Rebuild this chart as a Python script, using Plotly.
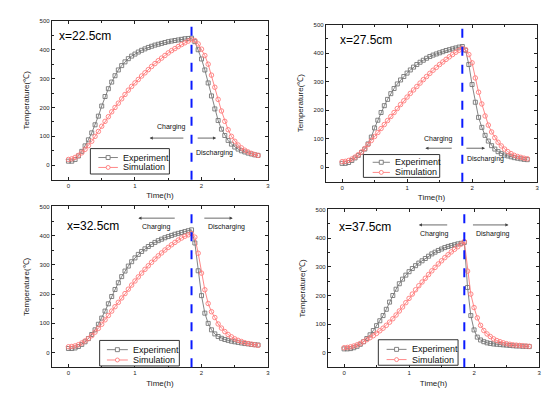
import plotly.graph_objects as go

# ---------------- data ----------------
time_h = [0.00, 0.05, 0.10, 0.15, 0.20, 0.25, 0.30, 0.35, 0.40, 0.45,
          0.50, 0.55, 0.60, 0.65, 0.70, 0.75, 0.80, 0.85, 0.90, 0.95,
          1.00, 1.05, 1.10, 1.15, 1.20, 1.25, 1.30, 1.35, 1.40, 1.45,
          1.50, 1.55, 1.60, 1.65, 1.70, 1.75, 1.80, 1.85, 1.90, 1.95,
          2.00, 2.05, 2.10, 2.15, 2.20, 2.25, 2.30, 2.35, 2.40, 2.45,
          2.50, 2.55, 2.60, 2.65, 2.70, 2.75, 2.80, 2.85]

switch_time = 1.85

panel_labels = ["x=22.5cm", "x=27.5cm", "x=32.5cm", "x=37.5cm"]
charge_labels = ["Charging", "Charging", "Charging", "Charging"]
discharge_labels = ["Discharging", "Discharging", "Discharging", "Disharging"]
series_names = ["Experiment", "Simulation"]

exp_22_5 = [14, 14, 20, 32, 48, 67, 88, 112, 140, 170,
            205, 238, 265, 288, 310, 330, 345, 358, 369, 378,
            385, 392, 398, 403, 408, 412, 416, 419, 422, 425,
            428, 430, 432, 434, 436, 438, 439, 440, 428, 400,
            368, 330, 285, 240, 195, 155, 125, 103, 86, 73,
            63, 56, 50, 46, 42, 39, 36, 34]
sim_22_5 = [20, 22, 27, 34, 43, 55, 68, 83, 100, 117,
            135, 152, 168, 185, 200, 215, 230, 245, 260, 273,
            285, 297, 309, 320, 331, 342, 352, 362, 371, 380,
            389, 397, 404, 411, 418, 424, 430, 435, 432, 420,
            402, 380, 350, 312, 270, 228, 188, 152, 123, 100,
            83, 70, 60, 52, 46, 41, 37, 34]

exp_27_5 = [14, 14, 17, 24, 33, 42, 52, 64, 82, 106,
            138, 165, 192, 216, 238, 258, 276, 292, 306, 318,
            330, 341, 351, 360, 368, 375, 382, 388, 393, 397,
            401, 405, 409, 412, 415, 418, 421, 423, 410, 360,
            290, 228, 175, 140, 112, 92, 76, 64, 55, 48,
            43, 40, 37, 34, 32, 30, 28, 27]
sim_27_5 = [20, 21, 24, 29, 36, 44, 54, 66, 80, 94,
            108, 122, 136, 150, 164, 178, 192, 206, 220, 233,
            246, 259, 271, 283, 295, 307, 318, 329, 340, 350,
            360, 369, 378, 387, 395, 403, 410, 417, 412, 395,
            366, 313, 263, 222, 180, 148, 124, 104, 88, 75,
            64, 55, 48, 42, 38, 35, 32, 30]

exp_32_5 = [14, 14, 16, 21, 28, 37, 48, 62, 78, 97,
            118, 142, 167, 192, 216, 239, 260, 279, 296, 311,
            324, 336, 346, 355, 363, 370, 377, 383, 388, 393,
            397, 401, 405, 408, 411, 414, 417, 420, 375, 280,
            195, 135, 100, 78, 64, 55, 49, 45, 42, 39,
            37, 35, 33, 31, 30, 28, 27, 26]
sim_32_5 = [20, 21, 23, 27, 33, 40, 48, 58, 70, 83,
            97, 112, 127, 142, 157, 172, 187, 202, 217, 231,
            245, 259, 272, 285, 297, 309, 320, 331, 341, 351,
            360, 369, 377, 385, 392, 398, 403, 407, 395, 340,
            272, 215, 168, 140, 120, 98, 84, 72, 62, 54,
            47, 42, 38, 34, 31, 29, 27, 25]

exp_37_5 = [14, 14, 15, 18, 23, 30, 39, 50, 63, 78,
            95, 112, 130, 152, 177, 200, 222, 241, 257, 271,
            283, 294, 304, 313, 321, 329, 337, 345, 351, 357,
            362, 367, 371, 374, 377, 380, 382, 385, 228, 130,
            80, 55, 45, 39, 35, 33, 31, 30, 29, 28,
            27, 26, 25, 24, 24, 23, 23, 22]
sim_37_5 = [18, 19, 21, 24, 28, 33, 39, 46, 53, 60,
            68, 77, 86, 96, 107, 119, 132, 146, 160, 175,
            190, 205, 220, 234, 247, 260, 273, 286, 298, 310,
            321, 332, 342, 352, 361, 370, 379, 388, 285, 205,
            158, 122, 96, 78, 66, 57, 49, 43, 39, 35,
            32, 30, 28, 27, 26, 25, 24, 23]

experiment_series = [exp_22_5, exp_27_5, exp_32_5, exp_37_5]
simulation_series = [sim_22_5, sim_27_5, sim_32_5, sim_37_5]

x_ticks = [0, 1, 2, 3]
y_ticks = [0, 100, 200, 300, 400, 500]

# ---------------- layout config ----------------
W, H = 558, 398
FONT = "Arial, Liberation Sans, sans-serif"
EXP_COLOR = "#767676"
SIM_COLOR = "#ff7b7b"
AX_COLOR = "#222"


def px_x(v):
    return v / W


def px_y(v):
    return 1 - v / H


# plot-area boxes in pixels: left, top, right, bottom
boxes = [(52, 18, 269, 178), (327, 21.7, 539, 180), (52, 205, 269, 367), (329, 208, 541, 367)]

# legend geometry in pixels: box l, t, r, b, row1 y, row2 y, line x0, x1, text x
legend_geo = [
    (90.7, 146.7, 170, 172.3, 155.7, 165.7, 98.7, 118.3, 121.7),
    (364.7, 152.7, 441.3, 175.7, 160.5, 170.7, 374, 391.3, 394),
    (100, 340, 180, 365.7, 349.3, 359.7, 107.3, 128.3, 131),
    (379.7, 339.3, 459.7, 365, 349, 359.3, 388, 408, 411.3),
]

# annotation positions (data coords) per panel
label_pos = [(-0.17, 448), (-0.066, 447), (-0.05, 434), (-0.11, 440)]
charge_text_pos = [(1.55, 132), (1.48, 100), (1.32, 429), (1.39, 416)]
discharge_text_pos = [(2.2, 43), (2.2, 29), (2.37, 429), (2.29, 416)]
left_arrow = [((1.75, 94), (1.22, 94)), ((1.71, 67), (1.28, 67)),
              ((1.62, 460), (1.05, 460)), ((1.61, 446), (1.15, 446))]
right_arrow = [((1.92, 94), (2.22, 94)), ((1.89, 67), (2.2, 67)),
               ((2.02, 460), (2.47, 460)), ((1.96, 446), (2.53, 446))]

fig = go.Figure()
annotations = []
shapes = []
layout_axes = {}

for i in range(4):
    n = "" if i == 0 else str(i + 1)
    xa, ya = "x" + n, "y" + n
    fig.add_trace(go.Scatter(
        x=time_h, y=experiment_series[i], mode="lines+markers", name=series_names[0],
        xaxis=xa, yaxis=ya, showlegend=False,
        line=dict(color=EXP_COLOR, width=0.9),
        marker=dict(symbol="square-open", size=4, color=EXP_COLOR, line=dict(width=0.9, color=EXP_COLOR)),
    ))
    fig.add_trace(go.Scatter(
        x=time_h, y=simulation_series[i], mode="lines+markers", name=series_names[1],
        xaxis=xa, yaxis=ya, showlegend=False,
        line=dict(color=SIM_COLOR, width=0.9),
        marker=dict(symbol="circle-open", size=4.5, color=SIM_COLOR, line=dict(width=0.9, color=SIM_COLOR)),
    ))
    l, t, r, b = boxes[i]
    common = dict(showline=True, linecolor=AX_COLOR, linewidth=1, mirror="allticks",
                  ticks="inside", ticklen=3, tickwidth=1, tickcolor=AX_COLOR,
                  showgrid=False, zeroline=False,
                  tickfont=dict(family=FONT, size=6, color=AX_COLOR))
    layout_axes["xaxis" + n] = dict(
        common, domain=[px_x(l), px_x(r)], range=[-0.25, 3], anchor=ya,
        tickvals=x_ticks, ticktext=[str(v) for v in x_ticks],
        minor=dict(ticks="inside", ticklen=2, dtick=0.5, tickcolor=AX_COLOR, showgrid=False),
        title=dict(text="Time(h)", font=dict(family=FONT, size=8, color=AX_COLOR), standoff=4),
    )
    layout_axes["yaxis" + n] = dict(
        common, domain=[px_y(b), px_y(t)], range=[-50, 500], anchor=xa,
        tickvals=y_ticks, ticktext=[str(v) for v in y_ticks],
        minor=dict(ticks="inside", ticklen=2, dtick=50, tickcolor=AX_COLOR, showgrid=False),
        title=dict(text="Temperature(\u2103)", font=dict(family=FONT, size=8, color=AX_COLOR), standoff=8),
    )
    # switch line
    shapes.append(dict(type="line", xref=xa, yref=ya + " domain", x0=switch_time, x1=switch_time,
                       y0=0, y1=1, line=dict(color="#0a1aff", width=2, dash="dash")))
    # texts
    annotations.append(dict(xref=xa, yref=ya, x=label_pos[i][0], y=label_pos[i][1],
                            text=panel_labels[i], showarrow=False, xanchor="left", yanchor="middle",
                            font=dict(family=FONT, size=12, color="#000")))
    annotations.append(dict(xref=xa, yref=ya, x=charge_text_pos[i][0], y=charge_text_pos[i][1],
                            text=charge_labels[i], showarrow=False,
                            font=dict(family=FONT, size=7, color="#111")))
    annotations.append(dict(xref=xa, yref=ya, x=discharge_text_pos[i][0], y=discharge_text_pos[i][1],
                            text=discharge_labels[i], showarrow=False,
                            font=dict(family=FONT, size=7, color="#111")))
    for (x0, y0), (x1, y1) in (left_arrow[i], right_arrow[i]):
        annotations.append(dict(xref=xa, yref=ya, axref=xa, ayref=ya,
                                x=x1, y=y1, ax=x0, ay=y0, text="", showarrow=True,
                                arrowhead=2, arrowsize=0.8, arrowwidth=0.8, arrowcolor="#444"))
    # legend drawn as a small key box
    bl, bt, br, bb, r1, r2, lx0, lx1, tx = legend_geo[i]
    shapes.append(dict(type="rect", xref="paper", yref="paper",
                       x0=px_x(bl), x1=px_x(br), y0=px_y(bb), y1=px_y(bt),
                       line=dict(color="#333", width=1), fillcolor="white", layer="above"))
    for ry, col, sym, name in ((r1, EXP_COLOR, "rect", series_names[0]),
                               (r2, SIM_COLOR, "circle", series_names[1])):
        shapes.append(dict(type="line", xref="paper", yref="paper",
                           x0=px_x(lx0), x1=px_x(lx1), y0=px_y(ry), y1=px_y(ry),
                           line=dict(color=col, width=0.9), layer="above"))
        mx = (lx0 + lx1) / 2
        shapes.append(dict(type=sym, xref="paper", yref="paper",
                           x0=px_x(mx - 2), x1=px_x(mx + 2), y0=px_y(ry + 2), y1=px_y(ry - 2),
                           line=dict(color=col, width=0.9), fillcolor="white", layer="above"))
        annotations.append(dict(xref="paper", yref="paper", x=px_x(tx), y=px_y(ry),
                                text=name, showarrow=False, xanchor="left", yanchor="middle",
                                font=dict(family=FONT, size=9, color="#111")))

fig.update_layout(
    width=W, height=H, margin=dict(l=0, r=0, t=0, b=0),
    paper_bgcolor="white", plot_bgcolor="white",
    showlegend=False, annotations=annotations, shapes=shapes,
    **layout_axes,
)

fig.write_html("out.html", config={"displayModeBar": False},
               post_script="document.body.style.margin='0';document.body.style.padding='0';")
